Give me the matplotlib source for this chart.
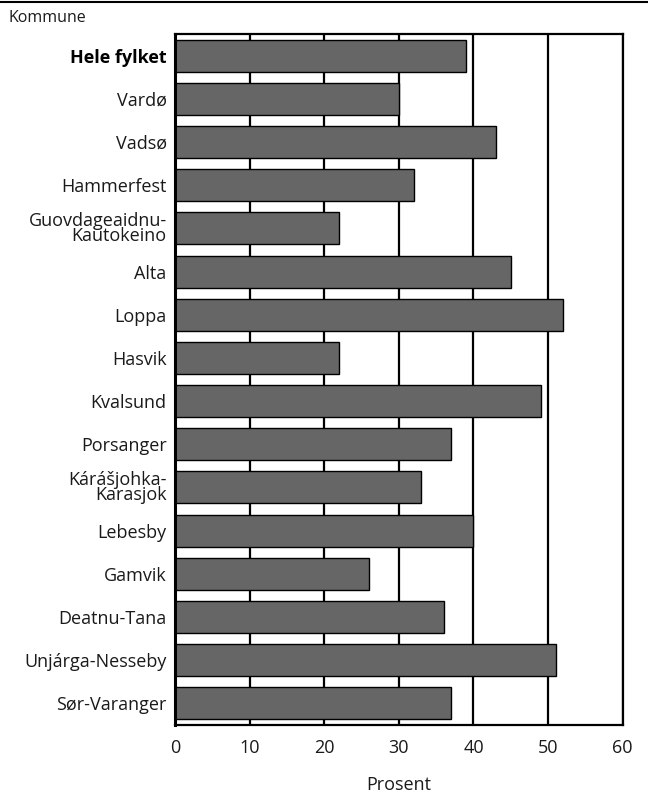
import matplotlib
matplotlib.use("Agg")
import matplotlib.pyplot as plt
from matplotlib.lines import Line2D

plt.rcParams['font.family'] = ['Open Sans', 'DejaVu Sans']

kommuner = ["Hele fylket", "Vardø", "Vadsø", "Hammerfest", "Guovdageaidnu-\nKautokeino",
            "Alta", "Loppa", "Hasvik", "Kvalsund", "Porsanger", "Kárášjohka-\nKarasjok",
            "Lebesby", "Gamvik", "Deatnu-Tana", "Unjárga-Nesseby", "Sør-Varanger"]
prosent = [39, 30, 43, 32, 22, 45, 52, 22, 49, 37, 33, 40, 26, 36, 51, 37]
xticks = [0, 10, 20, 30, 40, 50, 60]

fig = plt.figure(figsize=(6.48, 7.94), dpi=100)
ax = fig.add_axes([0.270, 0.087, 0.691, 0.870])

ypos = list(range(len(kommuner)))
ax.barh(ypos, prosent, height=0.74, color="#666666", edgecolor="black", linewidth=1.0, zorder=3)
ax.set_ylim(len(kommuner) - 0.5, -0.5)
ax.set_xlim(0, 60)
ax.set_xticks(xticks)
ax.set_xticklabels([str(t) for t in xticks], fontsize=13, color="#1a1a1a")
ax.set_yticks(ypos)
ax.set_yticklabels(kommuner, fontsize=13, color="#1a1a1a", linespacing=0.78)
for lab in ax.get_yticklabels():
    if lab.get_text() == "Hele fylket":
        lab.set_fontweight("bold")
        lab.set_color("black")
ax.tick_params(axis="y", length=0, pad=6)
ax.tick_params(axis="x", length=0, pad=10)

for x in xticks[1:]:
    ax.axvline(x, color="black", linewidth=1.6, zorder=1)

for s in ["top", "bottom", "left", "right"]:
    ax.spines[s].set_color("black")
    ax.spines[s].set_linewidth(1.6)
ax.spines["left"].set_linewidth(2.2)
ax.spines["left"].set_zorder(4)

ax.set_xlabel("Prosent", fontsize=13, color="#1a1a1a", labelpad=14)

fig.text(9 / 648, 1 - 18 / 794, "Kommune", fontsize=11.5, color="#1a1a1a", va="center", ha="left")
fig.add_artist(Line2D([0, 1], [1 - 2 / 794, 1 - 2 / 794], color="black", linewidth=1.5, transform=fig.transFigure))

fig.savefig("out.png", dpi=100)
